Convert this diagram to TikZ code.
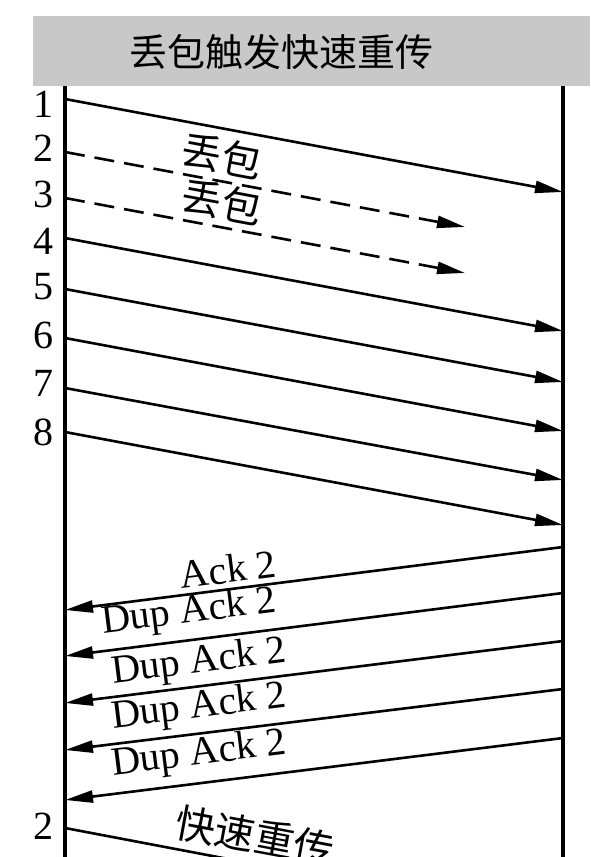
\documentclass[tikz,border=0pt]{standalone}
\usepackage{fontspec}
\setmainfont{Liberation Serif}
\newfontfamily\cjk{Noto Sans CJK SC}
\usepackage{xcolor}
\definecolor{bannerBack}{HTML}{C8C8C8}
\usetikzlibrary{arrows.meta, positioning, calc}
\tikzset{
    lifeline/.style={-, line width=4pt},
    pkt/.style={-{Triangle[length=28pt, width=12pt]}, line width=2.6pt},
    lostpkt/.style={pkt, dash pattern=on 20pt off 10pt},
    numlabel/.style={anchor=east, inner sep=0pt,
                     font=\fontsize{40}{44}\selectfont},
    msglabel/.style={inner sep=0pt, font=\fontsize{40}{44}\selectfont},
    cjklabel/.style={inner sep=0pt, font=\cjk\fontsize{40}{44}\selectfont},
}

\begin{document}
\begin{tikzpicture}[x=1pt, y=-1pt]
\clip (0,0) rectangle (590,857);

% --- banner ---
\fill[bannerBack] (33,16) rectangle (590,86);
\node[inner sep=0pt, font=\cjk\fontsize{38}{42}\selectfont] (title) at (281,52)
    {丢包触发快速重传};

% --- lifelines ---
\coordinate (snd-top) at (65,86);
\coordinate (snd-bot) at (65,860);
\coordinate (rcv-top) at (563,86);
\coordinate (rcv-bot) at (563,860);
\draw[lifeline] (snd-top) -- (snd-bot);
\draw[lifeline] (rcv-top) -- (rcv-bot);

% --- segments 1..8 ---
\coordinate (s1) at (65,99);   \coordinate (r1) at (563,192);
\coordinate (s2) at (65,152);  \coordinate (r2) at (465,227);
\coordinate (s3) at (65,198);  \coordinate (r3) at (465,273);
\coordinate (s4) at (65,238);  \coordinate (r4) at (563,331);
\coordinate (s5) at (65,289);  \coordinate (r5) at (563,382);
\coordinate (s6) at (65,338);  \coordinate (r6) at (563,431);
\coordinate (s7) at (65,388);  \coordinate (r7) at (563,480);
\coordinate (s8) at (65,432);  \coordinate (r8) at (563,525);
\draw[pkt] (s1) -- (r1);
\draw[lostpkt] (s2) -- (r2);
\draw[lostpkt] (s3) -- (r3);
\draw[pkt] (s4) -- (r4);
\draw[pkt] (s5) -- (r5);
\draw[pkt] (s6) -- (r6);
\draw[pkt] (s7) -- (r7);
\draw[pkt] (s8) -- (r8);

\node[numlabel] (n1) at (54,104) {1};
\node[numlabel] (n2) at (54,148) {2};
\node[numlabel] (n3) at (54,194) {3};
\node[numlabel] (n4) at (54,241) {4};
\node[numlabel] (n5) at (54,287) {5};
\node[numlabel] (n6) at (54,335) {6};
\node[numlabel] (n7) at (54,383) {7};
\node[numlabel] (n8) at (54,432) {8};

\node[cjklabel, rotate=-10.6] (lost2) at (222,156) {丢包};
\node[cjklabel, rotate=-10.6] (lost3) at (222,202) {丢包};

% --- acks ---
\coordinate (a1) at (563,547);  \coordinate (b1) at (65,610);
\coordinate (a2) at (563,593);  \coordinate (b2) at (65,656);
\coordinate (a3) at (563,641);  \coordinate (b3) at (65,703);
\coordinate (a4) at (563,689);  \coordinate (b4) at (65,750);
\coordinate (a5) at (563,738);  \coordinate (b5) at (65,800);
\draw[pkt] (a1) -- (b1);
\draw[pkt] (a2) -- (b2);
\draw[pkt] (a3) -- (b3);
\draw[pkt] (a4) -- (b4);
\draw[pkt] (a5) -- (b5);

\node[msglabel, rotate=7.2] (ack) at (228,569) {Ack 2};
\node[msglabel, rotate=7.2] (dup1) at (189,613) {Dup Ack 2};
\node[msglabel, rotate=7.2] (dup2) at (199,663) {Dup Ack 2};
\node[msglabel, rotate=7.2] (dup3) at (199,708) {Dup Ack 2};
\node[msglabel, rotate=7.2] (dup4) at (199,755) {Dup Ack 2};

% --- fast retransmit ---
\coordinate (s9) at (65,828);
\coordinate (r9) at (260,865);
\draw[line width=2.6pt] (s9) -- (r9);
\node[numlabel] (n9) at (54,826) {2};
\node[cjklabel, rotate=-10.6] (fastrt) at (255,836) {快速重传};
\end{tikzpicture}
\end{document}
